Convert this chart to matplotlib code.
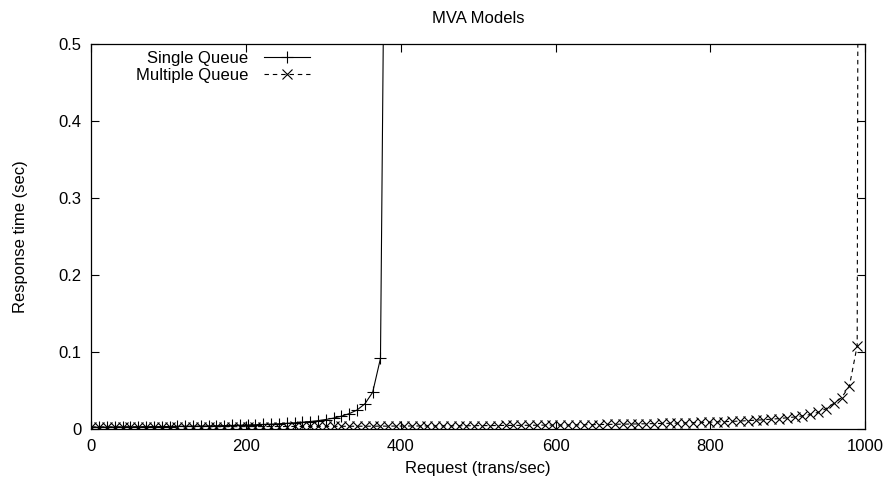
import matplotlib
matplotlib.use("Agg")
import matplotlib.pyplot as plt

plt.rcParams["font.family"] = ["Liberation Sans", "DejaVu Sans"]

# request rates (trans/sec) and MVA response times (sec)
single_x = [0.0, 10.1, 20.2, 30.3, 40.4, 50.5, 60.6, 70.7, 80.8, 90.9,
            101.0, 111.1, 121.2, 131.3, 141.4, 151.5, 161.6, 171.7, 181.8, 191.9,
            202.0, 212.1, 222.2, 232.3, 242.4, 252.5, 262.6, 272.7, 282.8, 292.9,
            303.0, 313.1, 323.2, 333.3, 343.4, 353.5, 363.6, 373.7, 383.8]
single_r = [0.0027, 0.0028, 0.0028, 0.0029, 0.0030, 0.0031, 0.0032, 0.0033, 0.0034, 0.0035,
            0.0036, 0.0038, 0.0039, 0.0041, 0.0042, 0.0044, 0.0046, 0.0048, 0.0050, 0.0053,
            0.0056, 0.0059, 0.0063, 0.0067, 0.0072, 0.0078, 0.0084, 0.0092, 0.0101, 0.0112,
            0.0127, 0.0145, 0.0170, 0.0203, 0.0250, 0.0330, 0.0480, 0.0920, 1.25]

multi_x = [0.0, 10.1, 20.2, 30.3, 40.4, 50.5, 60.6, 70.7, 80.8, 90.9,
           101.0, 111.1, 121.2, 131.3, 141.4, 151.5, 161.6, 171.7, 181.8, 191.9,
           202.0, 212.1, 222.2, 232.3, 242.4, 252.5, 262.6, 272.7, 282.8, 292.9,
           303.0, 313.1, 323.2, 333.3, 343.4, 353.5, 363.6, 373.7, 383.8, 393.9,
           404.0, 414.1, 424.2, 434.3, 444.4, 454.5, 464.6, 474.7, 484.8, 494.9,
           505.1, 515.2, 525.3, 535.4, 545.5, 555.6, 565.7, 575.8, 585.9, 596.0,
           606.1, 616.2, 626.3, 636.4, 646.5, 656.6, 666.7, 676.8, 686.9, 697.0,
           707.1, 717.2, 727.3, 737.4, 747.5, 757.6, 767.7, 777.8, 787.9, 798.0,
           808.1, 818.2, 828.3, 838.4, 848.5, 858.6, 868.7, 878.8, 888.9, 899.0,
           909.1, 919.2, 929.3, 939.4, 949.5, 959.6, 969.7, 979.8, 989.9, 1000.0]
multi_r = [0.0030, 0.0030, 0.0030, 0.0030, 0.0031, 0.0031, 0.0031, 0.0031, 0.0032, 0.0032,
           0.0032, 0.0032, 0.0033, 0.0033, 0.0033, 0.0033, 0.0034, 0.0034, 0.0034, 0.0034,
           0.0035, 0.0035, 0.0035, 0.0036, 0.0036, 0.0036, 0.0037, 0.0037, 0.0037, 0.0038,
           0.0038, 0.0038, 0.0039, 0.0039, 0.0040, 0.0040, 0.0040, 0.0041, 0.0041, 0.0042,
           0.0042, 0.0043, 0.0043, 0.0044, 0.0044, 0.0045, 0.0045, 0.0046, 0.0046, 0.0047,
           0.0048, 0.0048, 0.0049, 0.0050, 0.0050, 0.0051, 0.0052, 0.0053, 0.0054, 0.0055,
           0.0055, 0.0056, 0.0057, 0.0059, 0.0060, 0.0062, 0.0063, 0.0065, 0.0067, 0.0068,
           0.0070, 0.0072, 0.0074, 0.0076, 0.0078, 0.0080, 0.0083, 0.0086, 0.0089, 0.0092,
           0.0095, 0.0099, 0.0103, 0.0107, 0.0112, 0.0118, 0.0124, 0.0131, 0.0139, 0.0149,
           0.0160, 0.0174, 0.0192, 0.0220, 0.0267, 0.0336, 0.0410, 0.0560, 0.1085, 5.0]

x_ticks = [0, 200, 400, 600, 800, 1000]
y_ticks = [0, 0.1, 0.2, 0.3, 0.4, 0.5]
y_labels = ["0", "0.1", "0.2", "0.3", "0.4", "0.5"]

fig = plt.figure(figsize=(8.88, 4.83), dpi=100)
ax = fig.add_axes([0.1029, 0.1112, 0.8712, 0.7977])

ax.plot(single_x, single_r, color="black", lw=0.8, marker="+", ms=8, mew=0.8,
        label="Single Queue")
ax.plot(multi_x, multi_r, color="black", lw=0.8, ls=(0, (4, 3.5)), marker="x",
        ms=6.5, mew=0.8, label="Multiple Queue")

ax.set_xlim(0, 1000)
ax.set_ylim(0, 0.5)
ax.set_xticks(x_ticks)
ax.set_yticks(y_ticks)
ax.set_yticklabels(y_labels)
ax.tick_params(direction="in", length=5.8, width=0.8, top=True, right=True,
               labelsize=12, pad=7, color="black")
for s in ax.spines.values():
    s.set_linewidth(0.9)

ax.set_xlabel("Request (trans/sec)", fontsize=12, labelpad=5)
ax.set_ylabel("Response time (sec)", fontsize=12, labelpad=22)
ax.set_title("MVA Models", fontsize=12, pad=15)

ax.legend(loc="upper left", bbox_to_anchor=(0.058, 0.983), frameon=False,
          markerfirst=False, fontsize=12, handlelength=2.8, borderpad=0,
          borderaxespad=0, labelspacing=0.15, handletextpad=0.9)

fig.savefig("out.png", dpi=100)
